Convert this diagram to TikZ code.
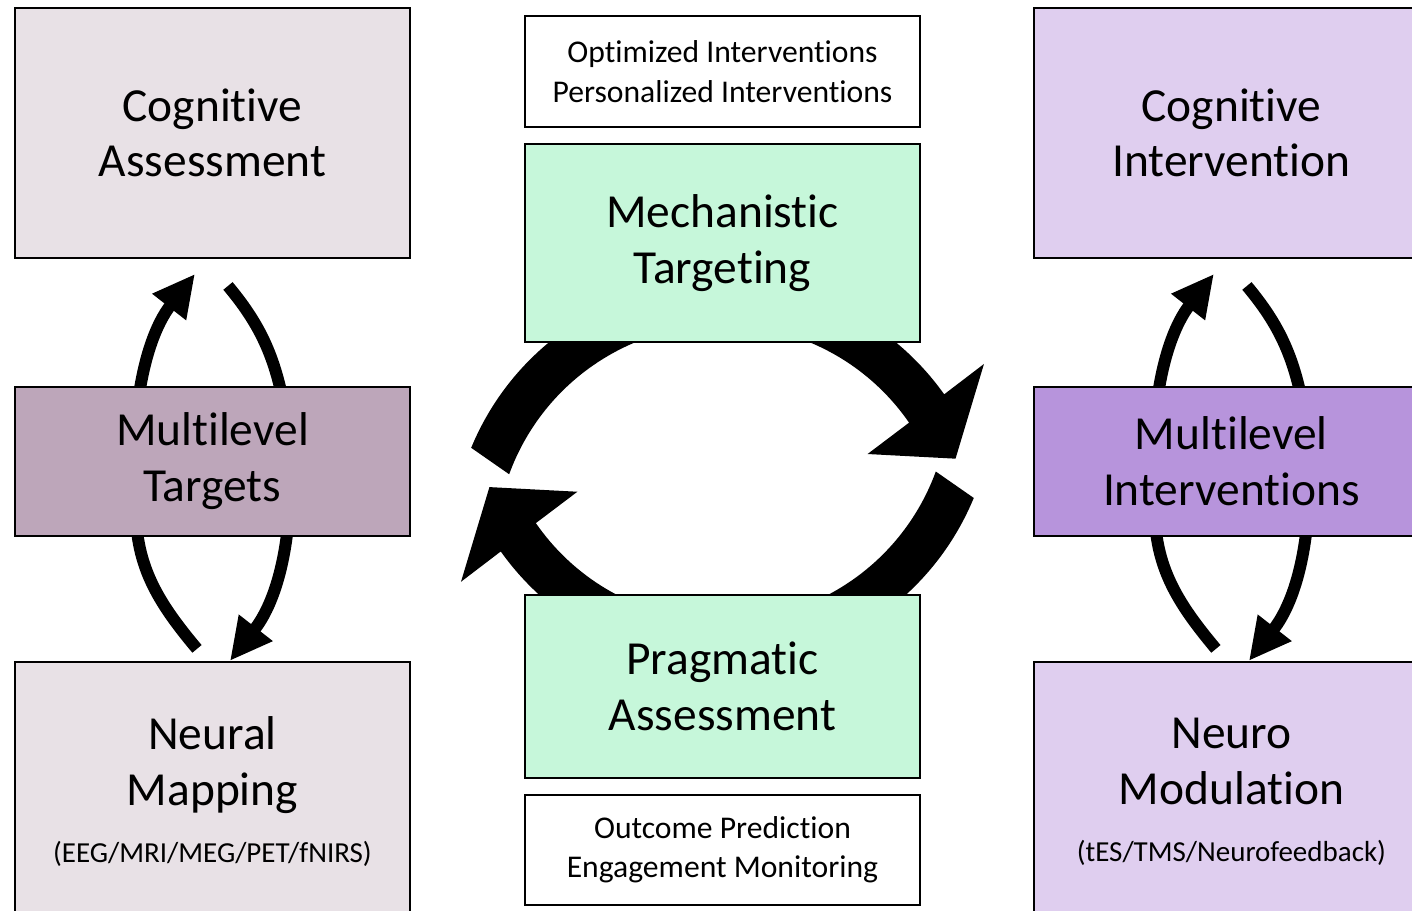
\documentclass[tikz,border=0pt]{standalone}
\usepackage{fontspec}
\setmainfont[Ligatures=NoCommon]{Carlito}
\usepackage{xcolor}
\usepackage{tikz}
\usetikzlibrary{positioning,arrows.meta,backgrounds,calc}
\tikzset{>=Latex}

\definecolor{assessgray}{HTML}{E8E1E6}
\definecolor{targetmauve}{HTML}{BDA6BA}
\definecolor{mintgreen}{HTML}{C6F7DA}
\definecolor{lilac}{HTML}{DFCEEF}
\definecolor{violet}{HTML}{B794DC}

\begin{document}
\begin{tikzpicture}[
squarednode/.style={rectangle, align=center, draw=black, line width=1.1pt, minimum width=7.9cm, font=\fontsize{27}{31.7}\selectfont},
notenode/.style={rectangle, align=center, draw=black, line width=1.1pt, minimum width=7.9cm, fill=white, font=\fontsize{18}{22.4}\selectfont},
looparrow/.style={line width=0.24cm, -{Triangle[length=0.84cm,width=0.8cm]}},
loopline/.style={line width=0.24cm},
]
\useasboundingbox (0,0) rectangle (28.24,-18.2);
\clip (0,0) rectangle (28.24,-18.2);
%Nodes
\node[squarednode, fill=assessgray, minimum height=5cm, anchor=north west](Cognitive Assessment) at (0.28,-0.14) {Cognitive\\Assessment};
\node[squarednode, fill=targetmauve, minimum height=2.98cm](Multilevel Targets)[below=2.54cm of Cognitive Assessment]{Multilevel\\Targets};
\node[squarednode, fill=assessgray, minimum height=5.2cm](Neural Mapping)[below=2.48cm of Multilevel Targets]{Neural\\Mapping\\[0.03cm]{\fontsize{16.5}{20}\selectfont (EEG/MRI/MEG/PET/fNIRS)}};
\node[notenode, minimum height=2.22cm, anchor=north west](Optimized)at (10.48,-0.3){Optimized Interventions\\Personalized Interventions};
\node[squarednode, fill=mintgreen, minimum height=3.96cm](Mechanistic Targeting)[below=0.3cm of Optimized]{Mechanistic\\Targeting};
\node[squarednode, fill=mintgreen, minimum height=3.66cm](Pragmatic Assessment)[below=5.02cm of Mechanistic Targeting]{Pragmatic\\Assessment};
\node[notenode, minimum height=2.2cm](Outcome)[below=0.3cm of Pragmatic Assessment]{Outcome Prediction\\Engagement Monitoring};
\node[squarednode, fill=lilac, minimum height=5cm](Cognitive Intervention)[right=12.44cm of Cognitive Assessment]{Cognitive\\Intervention};
\node[squarednode, fill=violet, minimum height=2.98cm](Multilevel Interventions)[below=2.54cm of Cognitive Intervention]{Multilevel\\Interventions};
\node[squarednode, fill=lilac, minimum height=5.2cm](Neuro Modulation)[below=2.48cm of Multilevel Interventions]{Neuro\\Modulation\\[0.03cm]{\fontsize{16.5}{20}\selectfont (tES/TMS/Neurofeedback)}};
\coordinate (Hub) at ($(Mechanistic Targeting.south)!0.5!(Pragmatic Assessment.north)$);

%Lines
\begin{scope}[on background layer]
\draw[looparrow] ([shift={(-1.53,0.81)}]Multilevel Targets.center) to[out=85,in=232] ([shift={(-0.35,-0.3)}]Cognitive Assessment.south);
\draw[loopline] ([shift={(0.31,-0.54)}]Cognitive Assessment.south) to[out=-50,in=100] ([shift={(1.49,0.81)}]Multilevel Targets.center);
\draw[loopline] ([shift={(-1.53,-0.79)}]Multilevel Targets.center) to[out=-92,in=130] ([shift={(-0.31,0.24)}]Neural Mapping.north);
\draw[looparrow] ([shift={(1.55,-0.79)}]Multilevel Targets.center) to[out=-93,in=52] ([shift={(0.35,0)}]Neural Mapping.north);
\draw[looparrow] ([shift={(-1.53,0.81)}]Multilevel Interventions.center) to[out=85,in=232] ([shift={(-0.35,-0.3)}]Cognitive Intervention.south);
\draw[loopline] ([shift={(0.31,-0.54)}]Cognitive Intervention.south) to[out=-50,in=100] ([shift={(1.49,0.81)}]Multilevel Interventions.center);
\draw[loopline] ([shift={(-1.53,-0.79)}]Multilevel Interventions.center) to[out=-92,in=130] ([shift={(-0.31,0.24)}]Neuro Modulation.north);
\draw[looparrow] ([shift={(1.55,-0.79)}]Multilevel Interventions.center) to[out=-93,in=52] ([shift={(0.35,0)}]Neuro Modulation.north);
\fill[shift={($(Hub)+(0,-1.67)$)}] (157.5:5.44) arc[start angle=157.5, end angle=35.4, radius=5.44] -- (35.7:6.44) -- (21.8:5.02) -- (34:3.5) -- (34.7:4.54) arc[start angle=34.7, end angle=160, radius=4.54] -- cycle;
\fill[shift={($(Hub)+(0,1.49)$)}] (337.5:5.44) arc[start angle=337.5, end angle=215.4, radius=5.44] -- (215.7:6.44) -- (201.8:5.02) -- (214:3.5) -- (214.7:4.54) arc[start angle=214.7, end angle=340, radius=4.54] -- cycle;
\end{scope}
\end{tikzpicture}
\end{document}
